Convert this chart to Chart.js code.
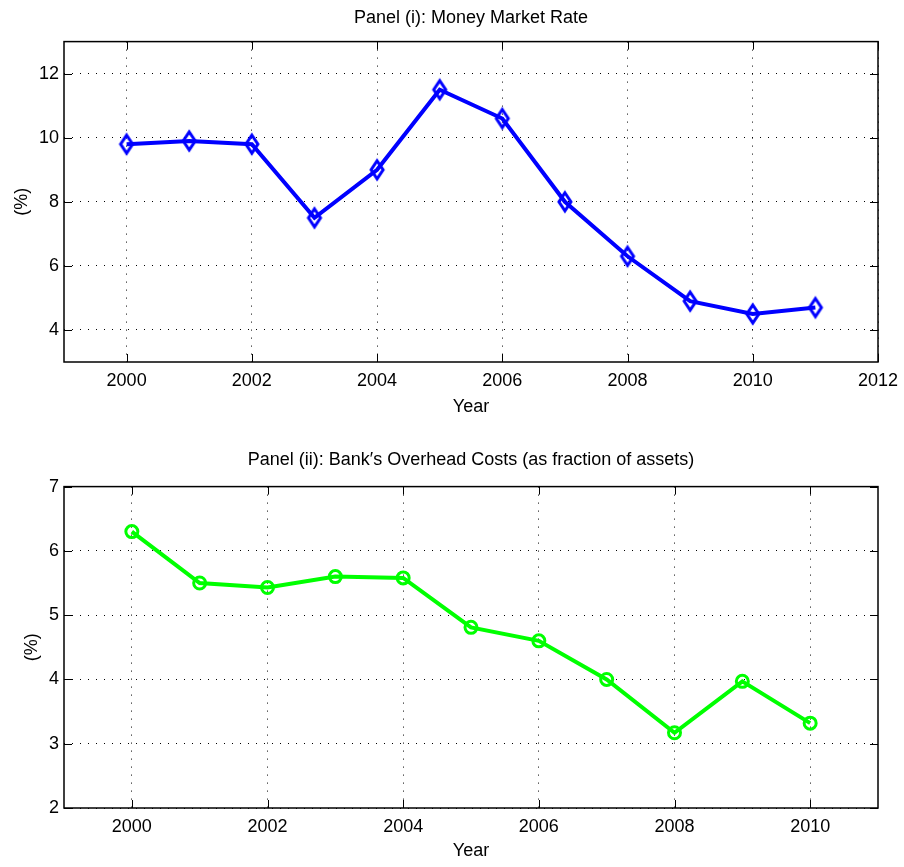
<!DOCTYPE html>
<html>
<head>
<meta charset="utf-8">
<script src="https://cdn.jsdelivr.net/npm/chart.js@4.4.1/dist/chart.umd.min.js"></script>
<style>
  body { margin: 0; background: #fff; }
  canvas { display: block; }
</style>
</head>
<body>
<canvas id="chartRate" width="904" height="430"></canvas>
<canvas id="chartCost" width="904" height="437"></canvas>
<script>
// Panel (i) data
const yearsRate = [2000, 2001, 2002, 2003, 2004, 2005, 2006, 2007, 2008, 2009, 2010, 2011];
const moneyMarketRate = [9.8, 9.9, 9.8, 7.5, 9.0, 11.5, 10.6, 8.0, 6.3, 4.9, 4.5, 4.7];
const xTicksRate = [2000, 2002, 2004, 2006, 2008, 2010, 2012];
const yTicksRate = [4, 6, 8, 10, 12];

// Panel (ii) data
const yearsCost = [2000, 2001, 2002, 2003, 2004, 2005, 2006, 2007, 2008, 2009, 2010];
const overheadCosts = [6.3, 5.5, 5.43, 5.6, 5.58, 4.81, 4.6, 4.0, 3.17, 3.97, 3.32];
const xTicksCost = [2000, 2002, 2004, 2006, 2008, 2010];
const yTicksCost = [2, 3, 4, 5, 6, 7];

Chart.defaults.font.family = "'Liberation Sans', Arial, Helvetica, sans-serif";
Chart.defaults.font.size = 18;
Chart.defaults.color = '#000';

// marker diamond ala matlab (lebih tinggi dari lebarnya)
function diamondMarker(color) {
  const c = document.createElement('canvas');
  c.width = 20;
  c.height = 26;
  const g = c.getContext('2d');
  g.strokeStyle = color;
  g.lineWidth = 3;
  g.beginPath();
  g.moveTo(10, 4);
  g.lineTo(16, 13);
  g.lineTo(10, 22);
  g.lineTo(4, 13);
  g.closePath();
  g.stroke();
  return c;
}

// kotak axes + tick ke dalam di keempat sisi
const boxFrame = {
  id: 'boxFrame',
  afterDatasetsDraw(chart) {
    const { ctx, chartArea: a, scales: { x, y } } = chart;
    ctx.save();
    ctx.strokeStyle = '#000';
    ctx.lineWidth = 1;
    ctx.beginPath();
    x.ticks.forEach(t => {
      const px = Math.round(x.getPixelForValue(t.value)) + 0.5;
      ctx.moveTo(px, a.bottom); ctx.lineTo(px, a.bottom - 8);
      ctx.moveTo(px, a.top); ctx.lineTo(px, a.top + 8);
    });
    y.ticks.forEach(t => {
      const py = Math.round(y.getPixelForValue(t.value)) + 0.5;
      ctx.moveTo(a.left, py); ctx.lineTo(a.left + 8, py);
      ctx.moveTo(a.right, py); ctx.lineTo(a.right - 8, py);
    });
    ctx.stroke();
    ctx.lineWidth = 1.5;
    ctx.strokeRect(a.left, a.top, a.right - a.left, a.bottom - a.top);
    ctx.restore();
  }
};

function makePanel(id, opt) {
  const ctx = document.getElementById(id).getContext('2d');
  return new Chart(ctx, {
    type: 'line',
    data: {
      datasets: [{
        data: opt.xs.map((v, i) => ({ x: v, y: opt.ys[i] })),
        borderColor: opt.color,
        borderWidth: 4,
        tension: 0,
        pointStyle: opt.pointStyle,
        pointRadius: opt.pointRadius,
        pointBorderWidth: 3,
        pointBorderColor: opt.color,
        pointBackgroundColor: 'rgba(0,0,0,0)'
      }]
    },
    options: {
      responsive: false,
      animation: false,
      layout: { padding: { left: 0, right: 26, top: 0, bottom: 0 } },
      plugins: {
        legend: { display: false },
        tooltip: { enabled: false },
        title: {
          display: true,
          fullSize: false,
          text: opt.title,
          color: '#000',
          font: { size: 18, weight: 'normal' },
          padding: opt.titlePad
        }
      },
      scales: {
        x: {
          type: 'linear',
          min: opt.xMin,
          max: opt.xMax,
          afterBuildTicks: s => { s.ticks = opt.xTicks.map(v => ({ value: v })); },
          afterFit: s => {
            s.height = opt.xHeight;
            s.paddingLeft = 0;
            s.paddingRight = 0;
          },
          ticks: { padding: 8, callback: v => String(v) },
          grid: { color: '#000', lineWidth: 1, drawTicks: false },
          border: { display: false, dash: [1, 7] },
          title: { display: true, text: 'Year', font: { size: 18 }, padding: { top: 0, bottom: opt.xTitlePad } }
        },
        y: {
          min: opt.yMin,
          max: opt.yMax,
          afterBuildTicks: s => { s.ticks = opt.yTicks.map(v => ({ value: v })); },
          afterFit: s => {
            s.width = 64;
            s.paddingTop = 0;
            s.paddingBottom = 0;
          },
          ticks: { padding: 5 },
          grid: { color: '#000', lineWidth: 1, drawTicks: false },
          border: { display: false, dash: [1, 7] },
          title: { display: true, text: '(%)', font: { size: 18 }, padding: { top: opt.yTitlePad, bottom: 0 } }
        }
      }
    },
    plugins: [boxFrame]
  });
}

makePanel('chartRate', {
  title: 'Panel (i): Money Market Rate',
  xs: yearsRate, ys: moneyMarketRate,
  color: '#0000ff',
  pointStyle: diamondMarker('#0000ff'), pointRadius: 9,
  xMin: 1999, xMax: 2012, xTicks: xTicksRate,
  yMin: 3, yMax: 13, yTicks: yTicksRate,
  titlePad: { top: 7, bottom: 13 },
  xHeight: 68, xTitlePad: 12, yTitlePad: 11
});

makePanel('chartCost', {
  title: 'Panel (ii): Bank\u2032s Overhead Costs (as fraction of assets)',
  xs: yearsCost, ys: overheadCosts,
  color: '#00ff00',
  pointStyle: 'circle', pointRadius: 6,
  xMin: 1999, xMax: 2011, xTicks: xTicksCost,
  yMin: 2, yMax: 7, yTicks: yTicksCost,
  titlePad: { top: 19, bottom: 16 },
  xHeight: 59, xTitlePad: 5, yTitlePad: 21
});
</script>
</body>
</html>
